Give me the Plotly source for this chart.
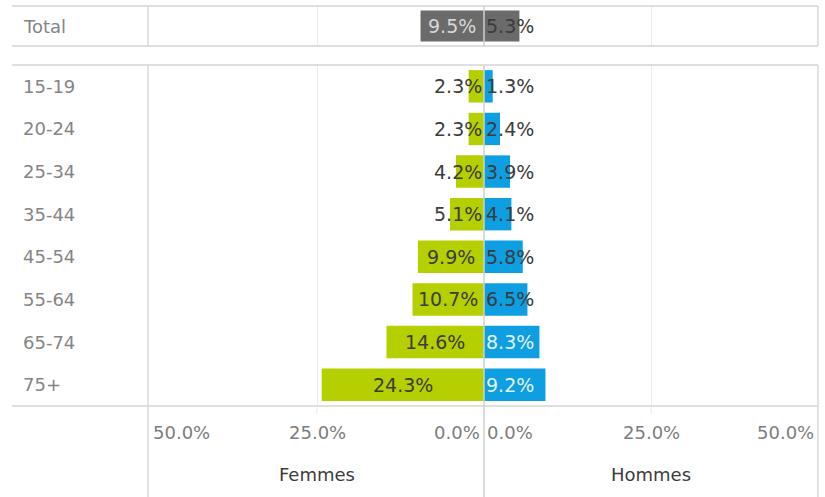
import plotly.graph_objects as go

age_groups = ["15-19", "20-24", "25-34", "35-44", "45-54", "55-64", "65-74", "75+"]
femmes = [2.3, 2.3, 4.2, 5.1, 9.9, 10.7, 14.6, 24.3]
hommes = [1.3, 2.4, 3.9, 4.1, 5.8, 6.5, 8.3, 9.2]
total_label = "Total"
total_femmes = 9.5
total_hommes = 5.3
tick_values = [50, 25, 0]
tick_labels = ["50.0%", "25.0%", "0.0%"]
panel_titles = ["Femmes", "Hommes"]

GREEN = "#b5cf00"
BLUE = "#0e9ee2"
GREY_BAR = "#6b6b6b"
LINE = "#d4d4d4"
GRID = "#ececec"
FONT = "DejaVu Sans"

W, H = 825, 497
L, R, T, B = 148, 7, 6, 91
XR = [-50.3, 50.0]

fig = go.Figure()

fig.add_trace(go.Bar(y=[total_label], x=[-total_femmes], orientation="h",
                     marker=dict(color=GREY_BAR, line=dict(width=0)), width=0.78,
                     xaxis="x", yaxis="y", hoverinfo="skip", showlegend=False))
fig.add_trace(go.Bar(y=[total_label], x=[total_hommes], orientation="h",
                     marker=dict(color=GREY_BAR, line=dict(width=0)), width=0.78,
                     xaxis="x", yaxis="y", hoverinfo="skip", showlegend=False))
fig.add_trace(go.Bar(y=age_groups, x=[-v for v in femmes], orientation="h",
                     marker=dict(color=GREEN, line=dict(width=0)), width=0.76,
                     xaxis="x2", yaxis="y2", hoverinfo="skip", showlegend=False))
fig.add_trace(go.Bar(y=age_groups, x=hommes, orientation="h",
                     marker=dict(color=BLUE, line=dict(width=0)), width=0.76,
                     xaxis="x2", yaxis="y2", hoverinfo="skip", showlegend=False))

y_total_dom = [(406 - 46) / 400, 1.0]
y_age_dom = [0.0, (406 - 65) / 400]

axis_common = dict(range=XR, showticklabels=False, zeroline=False,
                   showgrid=True, gridcolor=GRID, gridwidth=1,
                   tickvals=[-25, 25], showline=False, fixedrange=True)
fig.update_layout(
    width=W, height=H,
    margin=dict(l=L, r=R, t=T, b=B, pad=0),
    paper_bgcolor="white", plot_bgcolor="white",
    barmode="overlay",
    font=dict(family=FONT, size=15, color="#666666"),
    xaxis=dict(domain=[0, 1], anchor="y", **axis_common),
    xaxis2=dict(domain=[0, 1], anchor="y2", **axis_common),
    yaxis=dict(domain=y_total_dom, anchor="x", showticklabels=False, showgrid=False,
               zeroline=False, range=[-0.5, 0.5], fixedrange=True),
    yaxis2=dict(domain=y_age_dom, anchor="x2", showticklabels=False, showgrid=False,
                zeroline=False, categoryorder="array", categoryarray=age_groups,
                range=[len(age_groups) - 0.5, -0.5], fixedrange=True),
)

shapes = []
px_to_paper_x = lambda px: (px - L) / (W - L - R)
px_to_paper_y = lambda py: (H - B - py) / (H - T - B)
x_left = px_to_paper_x(12)
y_bottom_fig = px_to_paper_y(H)

for py in (6, 46, 65, 406):
    yy = px_to_paper_y(py)
    shapes.append(dict(type="line", xref="paper", yref="paper", x0=x_left, x1=1,
                       y0=yy, y1=yy, line=dict(color=LINE, width=1.3)))
for xx in (0, 1):
    shapes.append(dict(type="line", xref="paper", yref="paper", x0=xx, x1=xx,
                       y0=y_total_dom[0], y1=y_total_dom[1], line=dict(color=LINE, width=1.3)))
    shapes.append(dict(type="line", xref="paper", yref="paper", x0=xx, x1=xx,
                       y0=y_bottom_fig, y1=y_age_dom[1], line=dict(color=LINE, width=1.3)))
shapes.append(dict(type="line", xref="x", yref="paper", x0=0, x1=0,
                   y0=y_total_dom[0], y1=y_total_dom[1], line=dict(color="#cfcfcf", width=1.5)))
shapes.append(dict(type="line", xref="x2", yref="paper", x0=0, x1=0,
                   y0=y_bottom_fig, y1=y_age_dom[1], line=dict(color="#cfcfcf", width=1.5)))
for gx in (-25, 25):
    shapes.append(dict(type="line", xref="x2", yref="paper", x0=gx, x1=gx,
                       y0=px_to_paper_y(414), y1=0, line=dict(color=GRID, width=1)))
fig.update_layout(shapes=shapes)

ann = []
LABEL_FONT = dict(family=FONT, size=19, color="#3c3c3c")


def femme_label(v, y, xref, yref, color):
    if v >= 8:
        return dict(x=-v / 2, y=y, xref=xref, yref=yref, text=f"{v:.1f}%", showarrow=False,
                    xanchor="center", yanchor="middle", font=dict(LABEL_FONT, color=color))
    return dict(x=0, y=y, xref=xref, yref=yref, text=f"{v:.1f}%", showarrow=False,
                xanchor="right", xshift=0, yanchor="middle", font=dict(LABEL_FONT, color=color))


def homme_label(v, y, xref, yref, color):
    return dict(x=0, y=y, xref=xref, yref=yref, text=f"{v:.1f}%", showarrow=False,
                xanchor="left", xshift=0, yanchor="middle", font=dict(LABEL_FONT, color=color))


ann.append(femme_label(total_femmes, total_label, "x", "y", "#d8d8d8"))
ann.append(homme_label(total_hommes, total_label, "x", "y", "#3c3c3c"))
for g, f, h in zip(age_groups, femmes, hommes):
    ann.append(femme_label(f, g, "x2", "y2", "#3c3c3c"))
    ann.append(homme_label(h, g, "x2", "y2", "#e3f3fc" if h >= 8 else "#3c3c3c"))

ROW_FONT = dict(family=FONT, size=18, color="#858585")
ann.append(dict(x=px_to_paper_x(21), y=total_label, xref="paper", yref="y", text=total_label,
                showarrow=False, xanchor="left", yanchor="middle", font=ROW_FONT))
for g in age_groups:
    ann.append(dict(x=px_to_paper_x(21), y=g, xref="paper", yref="y2", text=g,
                    showarrow=False, xanchor="left", yanchor="middle", font=ROW_FONT))

TICK_FONT = dict(family=FONT, size=18, color="#7d7d7d")
tick_y = px_to_paper_y(433)
shift = {"left": 1, "center": 0, "right": -2}
for tv, tl, an in zip(tick_values, tick_labels, ["left", "center", "right"]):
    ann.append(dict(x=-tv, y=tick_y, xref="x2", yref="paper", text=tl, showarrow=False,
                    xanchor=an, yanchor="middle", xshift=shift[an], font=TICK_FONT))
for tv, tl, an in zip(tick_values, tick_labels, ["right", "center", "left"]):
    ann.append(dict(x=tv, y=tick_y, xref="x2", yref="paper", text=tl, showarrow=False,
                    xanchor=an, yanchor="middle", xshift=shift[an], font=TICK_FONT))

title_y = px_to_paper_y(475)
for xc, t in zip([-25, 25], panel_titles):
    ann.append(dict(x=xc, y=title_y, xref="x2", yref="paper", text=t, showarrow=False,
                    xanchor="center", yanchor="middle",
                    font=dict(family=FONT, size=18, color="#3c3c3c")))

fig.update_layout(annotations=ann)
fig.write_html("out.html", config={"displayModeBar": False},
               post_script="document.body.style.margin='0';document.body.style.padding='0';")
